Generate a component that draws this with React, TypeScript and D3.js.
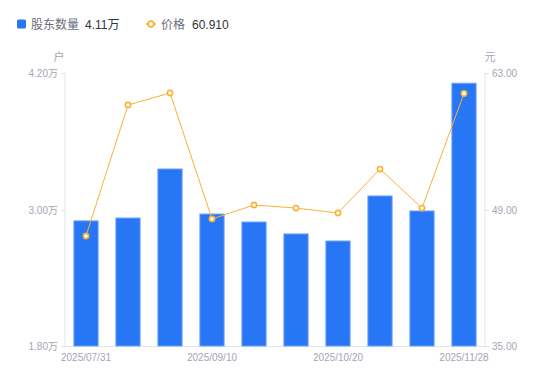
import React from "react";
import * as d3 from "d3";

const dates = ["2025/07/31", "2025/08/12", "2025/08/29", "2025/09/10", "2025/09/19", "2025/09/30", "2025/10/20", "2025/10/31", "2025/11/10", "2025/11/28"];
const holders = [2.9, 2.925, 3.356, 2.96, 2.89, 2.785, 2.723, 3.119, 2.987, 4.11];
const prices = [46.28, 59.72, 60.95, 48.03, 49.46, 49.15, 48.64, 53.15, 49.15, 60.91];
const leftTicks = [1.8, 3.0, 4.2];
const rightTicks = [35, 49, 63];
const labelIdx = [0, 3, 6, 9];

export default function App() {
  const W = 550, H = 381;
  const left = 65, right = 485, top = 73, bottom = 346;
  const x = d3.scaleBand<string>().domain(dates).range([left, right]).paddingInner(0.4).paddingOuter(0.2);
  const xc = (d: string) => (x(d) as number) + x.bandwidth() / 2;
  const yL = d3.scaleLinear().domain([1.8, 4.2]).range([bottom, top]);
  const yR = d3.scaleLinear().domain([35, 63]).range([bottom, top]);
  const line = d3.line<number>().x((_, i) => xc(dates[i])).y(v => yR(v));
  const font = "'Liberation Sans', Arial, 'Noto Sans CJK SC', sans-serif";
  const gray = "#a3a6b4";
  const axisColor = "#e3e4e8";
  const blue = "#2776f5";
  const orange = "#f9b233";
  return (
    <svg width={W} height={H} style={{ position: "absolute", left: 0, top: 0 }} fontFamily={font}>
      {/* legend */}
      <rect x={17} y={19.5} width={9} height={9} rx={1.5} fill={blue} />
      <text x={31} y={28.5} fontSize={12} fill="#6b6e7a">股东数量</text>
      <text x={85} y={28.5} fontSize={12} fill="#333">4.11万</text>
      <line x1={146} x2={156} y1={24} y2={24} stroke={orange} strokeWidth={1.5} />
      <circle cx={151} cy={24} r={2.8} fill="#fff" stroke={orange} strokeWidth={1.8} />
      <text x={161} y={28.5} fontSize={12} fill="#6b6e7a">价格</text>
      <text x={192} y={28.5} fontSize={12} fill="#333">60.910</text>

      {/* unit labels */}
      <text x={59} y={61} fontSize={11} fill={gray} textAnchor="middle">户</text>
      <text x={490} y={61} fontSize={11} fill={gray} textAnchor="middle">元</text>

      {/* axes */}
      <line x1={left} x2={left} y1={top} y2={bottom} stroke={axisColor} />
      <line x1={right} x2={right} y1={top} y2={bottom} stroke={axisColor} />
      <line x1={left} x2={right} y1={bottom + 0.5} y2={bottom + 0.5} stroke={axisColor} />
      {leftTicks.map(t => (
        <g key={"l" + t}>
          <line x1={left - 4} x2={left} y1={Math.round(yL(t)) + 0.5} y2={Math.round(yL(t)) + 0.5} stroke={axisColor} />
          <text x={left - 7} y={yL(t) + 4} fontSize={10} fill={gray} textAnchor="end">{t.toFixed(2)}万</text>
        </g>
      ))}
      {rightTicks.map(t => (
        <g key={"r" + t}>
          <line x1={right} x2={right + 4} y1={Math.round(yR(t)) + 0.5} y2={Math.round(yR(t)) + 0.5} stroke={axisColor} />
          <text x={right + 7} y={yR(t) + 4} fontSize={10} fill={gray} textAnchor="start">{t.toFixed(2)}</text>
        </g>
      ))}
      {labelIdx.map(i => (
        <text key={"x" + i} x={xc(dates[i])} y={361} fontSize={10} fill={gray} textAnchor="middle">{dates[i]}</text>
      ))}

      {/* bars */}
      {holders.map((v, i) => (
        <rect key={"b" + i} x={(x(dates[i]) as number) + 0.5} y={yL(v)} width={x.bandwidth() - 1} height={bottom - yL(v)} fill={blue} stroke="#6fa3f8" strokeWidth={1} />
      ))}

      {/* price line */}
      <path d={line(prices) || ""} fill="none" stroke={orange} strokeWidth={1} />
      {prices.map((v, i) => (
        <circle key={"p" + i} cx={xc(dates[i])} cy={yR(v)} r={2.6} fill="#fff" stroke={orange} strokeWidth={1.6} />
      ))}
    </svg>
  );
}
